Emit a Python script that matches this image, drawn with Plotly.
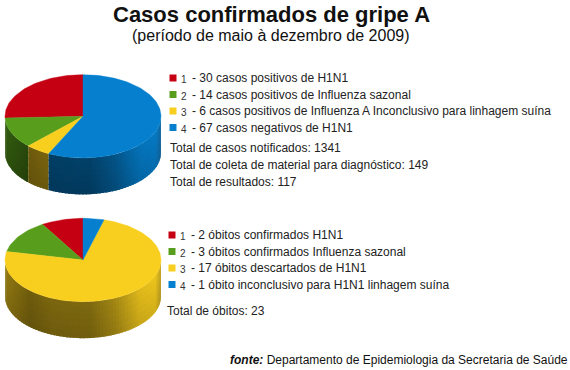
import math
import plotly.graph_objects as go

title = "Casos confirmados de gripe A"
subtitle = "(período de maio à dezembro de 2009)"

cases_values = [30, 14, 6, 67]
cases_labels = ["casos positivos de H1N1", "casos positivos de Influenza sazonal",
                "casos positivos de Influenza A Inconclusivo para linhagem suína",
                "casos negativos de H1N1"]
cases_totals = ["Total de casos notificados: 1341",
                "Total de coleta de material para diagnóstico: 149",
                "Total de resultados: 117"]

death_values = [2, 3, 17, 1]
death_labels = ["óbitos confirmados H1N1", "óbitos confirmados Influenza sazonal",
                "óbitos descartados de H1N1", "óbito inconclusivo para H1N1 linhagem suína"]
death_totals = ["Total de óbitos: 23"]

source_bold = "fonte:"
source_text = "Departamento de Epidemiologia da Secretaria de Saúde"

COLORS = [(196, 0, 18), (88, 158, 28), (249, 207, 31), (6, 128, 206)]
SHADE_U = [-1.0, -0.68, -0.4, 0.09, 0.41, 0.73, 0.93, 1.0]
SHADE_K = [0.56, 0.42, 0.47, 0.48, 0.62, 0.85, 0.90, 0.72]
ROWS = 6


def shade(u):
    for i in range(len(SHADE_U) - 1):
        if u <= SHADE_U[i + 1]:
            t = (u - SHADE_U[i]) / (SHADE_U[i + 1] - SHADE_U[i])
            return SHADE_K[i] + t * (SHADE_K[i + 1] - SHADE_K[i])
    return SHADE_K[-1]


def rgb(c, k=1.0):
    return "rgb(%d,%d,%d)" % tuple(min(255, int(v * k)) for v in c)


def poly(fig, xs, ys, color, lw=0.0):
    fig.add_trace(go.Scatter(x=xs, y=ys, mode="lines", fill="toself", fillcolor=color,
                             line=dict(color=color, width=lw), hoverinfo="skip",
                             showlegend=False))


def pie3d(fig, values, cx, cy, rx, ry, depth):
    total = sum(values)
    px = lambda th: cx - rx * math.sin(th)
    py = lambda th: cy - ry * math.cos(th)
    start = 0.0
    spans = []
    for v in values:
        end = start + v / total * 2 * math.pi
        spans.append((start, end))
        start = end
    # side wall, front half only, painted left to right with overlap so no seams show
    for (a, b), col in zip(spans, COLORS):
        a2, b2 = max(a, math.pi / 2), min(b, 3 * math.pi / 2)
        if b2 <= a2:
            continue
        n = max(1, int((b2 - a2) / math.radians(2.5)))
        for i in range(n):
            t0 = a2 + (b2 - a2) * i / n
            t1 = a2 + (b2 - a2) * (i + 1) / n
            t1x = min(t1 + math.radians(1.5), b2)
            ts = [t0 + (t1x - t0) * j / 3 for j in range(4)]
            u = (px((t0 + t1) / 2) - cx) / rx
            for r in range(ROWS):
                d0 = depth * r / ROWS
                d1 = depth * (r + 1) / ROWS + (1 if r < ROWS - 1 else 0)
                k = shade(u) * (1.05 - 0.10 * r / (ROWS - 1))
                poly(fig, [px(t) for t in ts] + [px(t) for t in reversed(ts)] + [px(ts[0])],
                     [py(t) + d0 for t in ts] + [py(t) + d1 for t in reversed(ts)] + [py(ts[0]) + d0],
                     rgb(col, k))
    # top face
    for (a, b), col in zip(spans, COLORS):
        n = max(2, int((b - a) / math.radians(2)))
        ts = [a + (b - a) * i / n for i in range(n + 1)]
        poly(fig, [cx] + [px(t) for t in ts] + [cx], [cy] + [py(t) for t in ts] + [cy], rgb(col), 0.4)


def text(fig, x, y, s, size=12, color="#222", anchor="left", family="Liberation Sans"):
    fig.add_annotation(x=x, y=y, text=s, showarrow=False, xanchor=anchor, yanchor="middle",
                       font=dict(family=family, size=size, color=color), xref="x", yref="y",
                       align="left", borderpad=0, borderwidth=0)


def legend(fig, x, ys, values, labels):
    fig.add_trace(go.Scatter(x=[x + 3] * len(ys), y=ys, mode="markers", hoverinfo="skip",
                             showlegend=False,
                             marker=dict(symbol="square", size=7, color=[rgb(c) for c in COLORS])))
    for i, (y, v, l) in enumerate(zip(ys, values, labels)):
        text(fig, x + 11, y + 1.5, str(i + 1), size=10, color="#333")
        text(fig, x + 22, y, f"- {v} {l}")


fig = go.Figure()
pie3d(fig, cases_values, 83, 116.3, 78, 41.6, 36.5)
pie3d(fig, death_values, 83, 260, 78, 41.7, 36.5)

text(fig, 271, 14.5, f"<b>{title}</b>", size=22, color="#111", anchor="center")
text(fig, 271, 35, subtitle, size=16, color="#111", anchor="center")

legend(fig, 170, [78, 94.5, 111, 127.5], cases_values, cases_labels)
for y, s in zip([148, 165, 182], cases_totals):
    text(fig, 170, y, s)

legend(fig, 169, [235, 251.5, 268, 284.5], death_values, death_labels)
text(fig, 167, 311, death_totals[0])

text(fig, 229.5, 360, f"<b><i>{source_bold}</i></b> {source_text}", color="#111")

fig.update_layout(width=570, height=370, margin=dict(l=0, r=0, t=0, b=0, pad=0),
                  paper_bgcolor="white", plot_bgcolor="white", showlegend=False,
                  xaxis=dict(range=[0, 570], visible=False, fixedrange=True),
                  yaxis=dict(range=[370, 0], visible=False, fixedrange=True))
fig.write_html("out.html", config=dict(displayModeBar=False),
               post_script="document.body.style.margin='0';")
